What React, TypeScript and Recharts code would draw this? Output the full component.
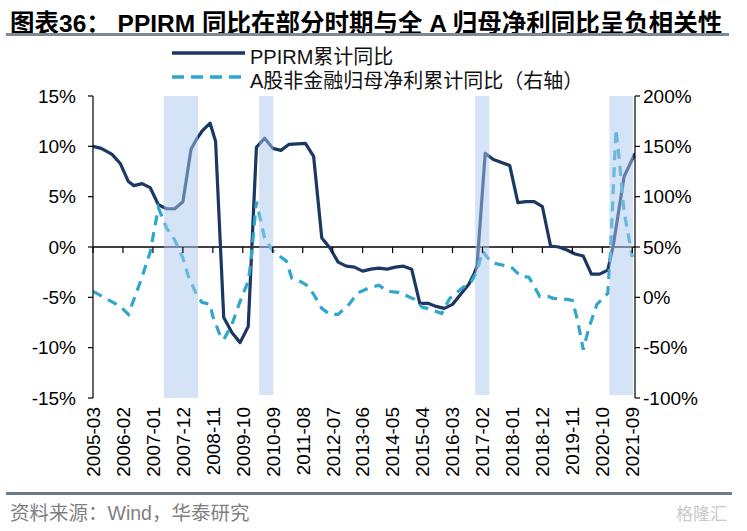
import React from 'react'
import {LineChart, Line, XAxis, YAxis, ReferenceArea, ReferenceLine} from 'recharts'

// month index: 0 = 2005-03
const ppirmMonths = [0, 3, 7, 10, 13, 15, 18, 21, 24, 27, 30, 33, 36, 38, 40, 43, 45, 48, 51, 54, 57, 60, 63, 66, 69, 72, 78, 81, 84, 87, 90, 93, 96, 99, 102, 105, 108, 111, 114, 117, 120, 123, 126, 129, 132, 135, 138, 140, 141, 144, 147, 150, 153, 156, 159, 162, 165, 168, 171, 174, 177, 180, 183, 186, 189, 191, 195, 199]
const ppirmValues = [10.0, 9.8, 9.2, 8.3, 6.5, 6.1, 6.3, 5.9, 4.2, 3.8, 3.8, 4.5, 9.7, 10.7, 11.5, 12.3, 10.5, -7.0, -8.5, -9.5, -7.9, 9.9, 10.8, 9.8, 9.6, 10.2, 10.3, 9.0, 0.9, -0.1, -1.5, -1.9, -2.0, -2.4, -2.2, -2.1, -2.2, -2.0, -1.9, -2.2, -5.6, -5.6, -5.9, -6.1, -5.7, -4.7, -3.7, -2.6, -1.9, 9.3, 8.7, 8.4, 8.1, 4.4, 4.5, 4.5, 4.0, 0.1, 0.0, -0.3, -0.7, -0.9, -2.7, -2.7, -2.3, 0.1, 7.0, 9.3]

const profitMonths = [0, 10, 13, 18, 21, 24, 27, 30, 33, 35, 38, 40, 43, 44, 47, 48, 51, 54, 57, 58, 60, 63, 66, 71, 73, 76, 79, 81, 84, 87, 90, 94, 97, 101, 105, 108, 112, 114, 118, 121, 123, 128, 131, 135, 139, 141, 143, 145, 147, 152, 154, 157, 160, 162, 164, 167, 169, 174, 176, 178, 180, 182, 185, 189, 190, 192, 193, 195, 198]
const profitValues = [6, -9, -17, 20, 45, 89, 69, 57, 39, 21, 3, -5, -7, -19, -40, -42, -27, -4, 16, 36, 95, 59, 46, 36, 19, 16, 11, 3, -11, -17, -17, -7, 4, 9, 12, 6, 5, 3, -2, -10, -11, -16, -1, 8, 16, 26, 46, 39, 34, 31, 29, 21, 20, 11, 1, 1, -1, -2, -3, -24, -52, -31, -7, 4, 45, 167, 143, 85, 40]

const xTicks = [0, 11, 22, 33, 44, 55, 66, 77, 88, 99, 110, 121, 132, 143, 154, 165, 176, 187, 198]
const leftTicks = [-15, -10, -5, 0, 5, 10, 15]
const rightTicks = [-100, -50, 0, 50, 100, 150, 200]
const bandStarts = [26, 61, 140.3, 189.6]
const bandEnds = [38.6, 66.2, 145.5, 198.3]

const ppirmData = ppirmMonths.map((m, i) => ({m, v: ppirmValues[i]}))
const profitData = profitMonths.map((m, i) => ({m, v: profitValues[i]}))

const FONT = '"Liberation Sans", Arial, "Noto Sans CJK SC", sans-serif'
const NAVY = '#1b3763'
const CYAN = '#2fa6cc'

const PLOT_TOP = 96
const PLOT_H = 302
const ZERO_Y = PLOT_TOP + PLOT_H / 2

function monthLabel(m: number) {
    const t = 2 + m
    const year = 2005 + Math.floor(t / 12)
    const month = (t % 12) + 1
    return `${year}-${String(month).padStart(2, '0')}`
}

function XTick({x, payload}: any) {
    const labelY = PLOT_TOP + PLOT_H + 9
    return (
        <g>
            <line x1={x} x2={x} y1={ZERO_Y} y2={ZERO_Y + 6} stroke="#000" strokeWidth={1.2}/>
            <text x={x} y={labelY} transform={`rotate(-90 ${x} ${labelY})`} textAnchor="end" dy="0.36em"
                  fontSize={19} fill="#000" fontFamily={FONT}>{monthLabel(payload.value)}</text>
        </g>
    )
}

export default function App() {
    return (
        <div style={{position: 'absolute', left: 0, top: 0, width: 747, height: 531, background: '#fff', fontFamily: FONT}}>
            <div style={{position: 'absolute', left: 10, top: 4, fontSize: 24.5, fontWeight: 'bold', color: '#000', whiteSpace: 'nowrap', fontFamily: '"Liberation Sans", "Noto Sans CJK SC", sans-serif'}}>
                图表36： PPIRM 同比在部分时期与全 A 归母净利同比呈负相关性
            </div>
            <div style={{position: 'absolute', left: 6, top: 33, width: 723, height: 3, background: '#7f8a94'}}/>

            <svg style={{position: 'absolute', left: 0, top: 40}} width={260} height={50}>
                <line x1={172} x2={245} y1={13} y2={13} stroke={NAVY} strokeWidth={3.5}/>
                <line x1={172} x2={245} y1={37} y2={37} stroke={CYAN} strokeWidth={3.5} strokeDasharray="12 7"/>
            </svg>
            <div style={{position: 'absolute', left: 250, top: 41, fontSize: 20, color: '#111', whiteSpace: 'nowrap'}}>PPIRM累计同比</div>
            <div style={{position: 'absolute', left: 250, top: 65, fontSize: 20, color: '#111', whiteSpace: 'nowrap'}}>A股非金融归母净利累计同比（右轴）</div>

            <div style={{position: 'absolute', left: 0, top: 0}}>
                <LineChart width={747} height={531} margin={{top: PLOT_TOP, right: 52, bottom: 43, left: 33}}>
                    <XAxis dataKey="m" type="number" domain={[0, 199]} ticks={xTicks} interval={0}
                           axisLine={false} tickLine={false} height={90} tick={(p: any) => <XTick {...p}/>}
                           allowDataOverflow/>
                    <YAxis yAxisId="left" domain={[-15, 15]} ticks={leftTicks} width={60} tickSize={5} tickMargin={12}
                           axisLine={{stroke: '#000', strokeWidth: 1.2}} tickLine={{stroke: '#000', strokeWidth: 1.2}}
                           tick={{fontSize: 19, fill: '#000', fontFamily: FONT}} tickFormatter={(v: number) => `${v}%`}
                           allowDataOverflow/>
                    <YAxis yAxisId="right" orientation="right" domain={[-100, 200]} ticks={rightTicks} width={60}
                           tickSize={5} tickMargin={3}
                           axisLine={{stroke: '#000', strokeWidth: 1.2}} tickLine={{stroke: '#000', strokeWidth: 1.2}}
                           tick={{fontSize: 19, fill: '#000', fontFamily: FONT}} tickFormatter={(v: number) => `${v}%`}
                           allowDataOverflow/>
                    <ReferenceLine yAxisId="left" y={0} stroke="#000" strokeWidth={1.5}/>
                    <Line yAxisId="left" data={ppirmData} dataKey="v" stroke={NAVY} strokeWidth={3.2} dot={false}
                          isAnimationActive={false} strokeLinejoin="round"/>
                    <Line yAxisId="right" data={profitData} dataKey="v" stroke={CYAN} strokeWidth={3.2} dot={false}
                          strokeDasharray="10 7" isAnimationActive={false}/>
                    {bandStarts.map((s, i) => (
                        <ReferenceArea key={i} yAxisId="right" x1={s} x2={bandEnds[i]} y1={i === 0 ? -100 : -97} y2={200}
                                       fill="#a9c8ee" fillOpacity={0.5} stroke="none" zIndex={1000}/>
                    ))}
                </LineChart>
            </div>

            <div style={{position: 'absolute', left: 6, top: 492, width: 726, height: 3, background: '#6f7d8a'}}/>
            <div style={{position: 'absolute', left: 10, top: 497, fontSize: 19.5, color: '#7f7f7f', whiteSpace: 'nowrap'}}>资料来源：Wind，华泰研究</div>
            <div style={{position: 'absolute', left: 676, top: 500, fontSize: 17, color: '#c9c9c9', whiteSpace: 'nowrap'}}>格隆汇</div>
        </div>
    )
}
